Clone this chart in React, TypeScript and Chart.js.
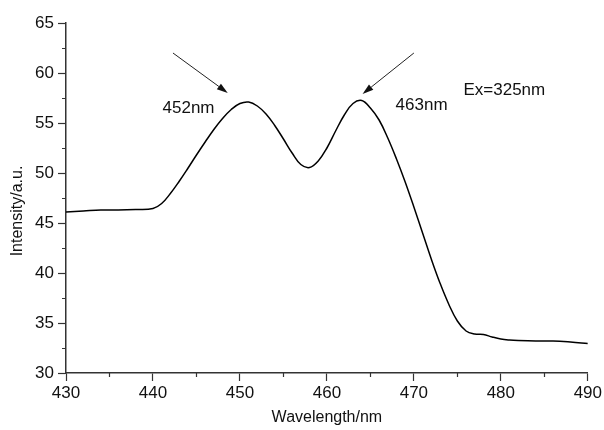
import React, { useEffect, useRef } from "react";
import { Chart, registerables } from "chart.js";

Chart.register(...registerables);

const wavelengths = [
  430, 432, 434, 436, 438, 440, 441, 442, 443, 444, 445, 446, 447, 448, 449, 450, 451,
  452, 453, 454, 455, 456, 457, 458, 459, 460, 461, 462, 463, 464, 465,
  466, 467, 468, 469, 470, 471, 472, 473, 474, 475, 476, 477, 478, 479, 480, 481, 482, 484,
  486, 488, 490,
];
const intensities = [
  46.1, 46.2, 46.3, 46.3, 46.35, 46.45, 46.95, 47.95, 49.15, 50.45, 51.8, 53.1, 54.35, 55.45, 56.35, 56.95, 57.1,
  56.7, 55.9, 54.75, 53.4, 52.0, 50.85, 50.55, 51.2, 52.5, 54.2, 55.8, 56.95, 57.25, 56.5,
  55.3, 53.5, 51.4, 49.1, 46.6, 44.0, 41.4, 39.0, 36.9, 35.2, 34.2, 33.9, 33.85, 33.6, 33.4, 33.3, 33.25, 33.2,
  33.2, 33.1, 32.95,
];

const xMajorTicks = [430, 440, 450, 460, 470, 480, 490];
const xMinorTicks = [435, 445, 455, 465, 475, 485];
const yMajorTicks = [30, 35, 40, 45, 50, 55, 60, 65];
const yMinorTicks = [32.5, 37.5, 42.5, 47.5, 52.5, 57.5, 62.5];

const xTitle = "Wavelength/nm";
const yTitle = "Intensity/a.u.";

const labelTexts = ["452nm", "463nm", "Ex=325nm"];
const labelX = [441.1, 467.9, 475.7];
const labelY = [56.5, 56.8, 58.25];

const arrowStartX = [442.3, 470.0];
const arrowStartY = [62.0, 62.0];
const arrowEndX = [448.6, 464.1];
const arrowEndY = [58.0, 57.9];

const FONT = "'Liberation Sans', Arial, sans-serif";

const overlayPlugin = {
  id: "overlay",
  afterDraw(chart: any) {
    const ctx = chart.ctx;
    const xs = chart.scales.x;
    const ys = chart.scales.y;
    const area = chart.chartArea;
    ctx.save();
    // minor ticks
    ctx.strokeStyle = "#333";
    ctx.lineWidth = 1.2;
    ctx.beginPath();
    xMinorTicks.forEach((v) => {
      const px = Math.round(xs.getPixelForValue(v)) + 0.5;
      ctx.moveTo(px, area.bottom);
      ctx.lineTo(px, area.bottom + 4);
    });
    yMinorTicks.forEach((v) => {
      const py = Math.round(ys.getPixelForValue(v)) + 0.5;
      ctx.moveTo(area.left - 4, py);
      ctx.lineTo(area.left, py);
    });
    ctx.stroke();

    // arrows
    ctx.strokeStyle = "#222";
    ctx.fillStyle = "#111";
    ctx.lineWidth = 1;
    for (let i = 0; i < arrowStartX.length; i++) {
      const x0 = xs.getPixelForValue(arrowStartX[i]);
      const y0 = ys.getPixelForValue(arrowStartY[i]);
      const x1 = xs.getPixelForValue(arrowEndX[i]);
      const y1 = ys.getPixelForValue(arrowEndY[i]);
      const ang = Math.atan2(y1 - y0, x1 - x0);
      const headLen = 11;
      const headW = 3.5;
      const bx = x1 - headLen * Math.cos(ang);
      const by = y1 - headLen * Math.sin(ang);
      ctx.beginPath();
      ctx.moveTo(x0, y0);
      ctx.lineTo(bx, by);
      ctx.stroke();
      ctx.beginPath();
      ctx.moveTo(x1, y1);
      ctx.lineTo(bx + headW * Math.sin(ang), by - headW * Math.cos(ang));
      ctx.lineTo(bx - headW * Math.sin(ang), by + headW * Math.cos(ang));
      ctx.closePath();
      ctx.fill();
    }

    // labels
    ctx.fillStyle = "#111";
    ctx.font = `17px ${FONT}`;
    ctx.textAlign = "left";
    ctx.textBaseline = "middle";
    for (let i = 0; i < labelTexts.length; i++) {
      ctx.fillText(labelTexts[i], xs.getPixelForValue(labelX[i]), ys.getPixelForValue(labelY[i]));
    }

    // y axis title
    ctx.font = `16px ${FONT}`;
    ctx.textAlign = "center";
    ctx.translate(18, ys.getPixelForValue(46.2));
    ctx.rotate(-Math.PI / 2);
    ctx.fillText(yTitle, 0, 0);
    ctx.restore();
  },
};

export default function App() {
  const canvasRef = useRef<HTMLCanvasElement | null>(null);

  useEffect(() => {
    if (!canvasRef.current) return;
    const chart = new Chart(canvasRef.current, {
      type: "line",
      data: {
        datasets: [
          {
            data: wavelengths.map((w, i) => ({ x: w, y: intensities[i] })),
            borderColor: "#000",
            borderWidth: 1.5,
            pointRadius: 0,
            tension: 0.4,
            fill: false,
          },
        ],
      },
      options: {
        animation: false,
        responsive: true,
        maintainAspectRatio: false,
        layout: { padding: { left: 8, right: 15, top: 23, bottom: 3 } },
        plugins: { legend: { display: false }, tooltip: { enabled: false } },
        scales: {
          x: {
            type: "linear",
            min: 430,
            max: 490,
            afterBuildTicks: (s: any) => {
              s.ticks = xMajorTicks.map((v) => ({ value: v }));
            },
            afterFit: (s: any) => {
              s.height = 54;
            },
            border: { display: true, color: "#333", width: 1.5 },
            grid: { drawOnChartArea: false, drawTicks: true, tickLength: 8, tickColor: "#333", tickWidth: 1.2 },
            ticks: { color: "#111", font: { family: FONT, size: 17 }, padding: 2, maxRotation: 0 },
            title: { display: true, text: xTitle, color: "#111", font: { family: FONT, size: 16 }, padding: 0 },
          },
          y: {
            type: "linear",
            min: 30,
            max: 65,
            afterBuildTicks: (s: any) => {
              s.ticks = yMajorTicks.map((v) => ({ value: v }));
            },
            afterFit: (s: any) => {
              s.width = 58;
            },
            border: { display: true, color: "#333", width: 1.5 },
            grid: { drawOnChartArea: false, drawTicks: true, tickLength: 8, tickColor: "#333", tickWidth: 1.2 },
            ticks: { color: "#111", font: { family: FONT, size: 17 }, padding: 4 },
            title: { display: false },
          },
        },
      },
      plugins: [overlayPlugin],
    });
    return () => chart.destroy();
  }, []);

  return (
    <div style={{ position: "absolute", left: 0, top: 0, width: 604, height: 430, background: "#fff" }}>
      <canvas ref={canvasRef} />
    </div>
  );
}
